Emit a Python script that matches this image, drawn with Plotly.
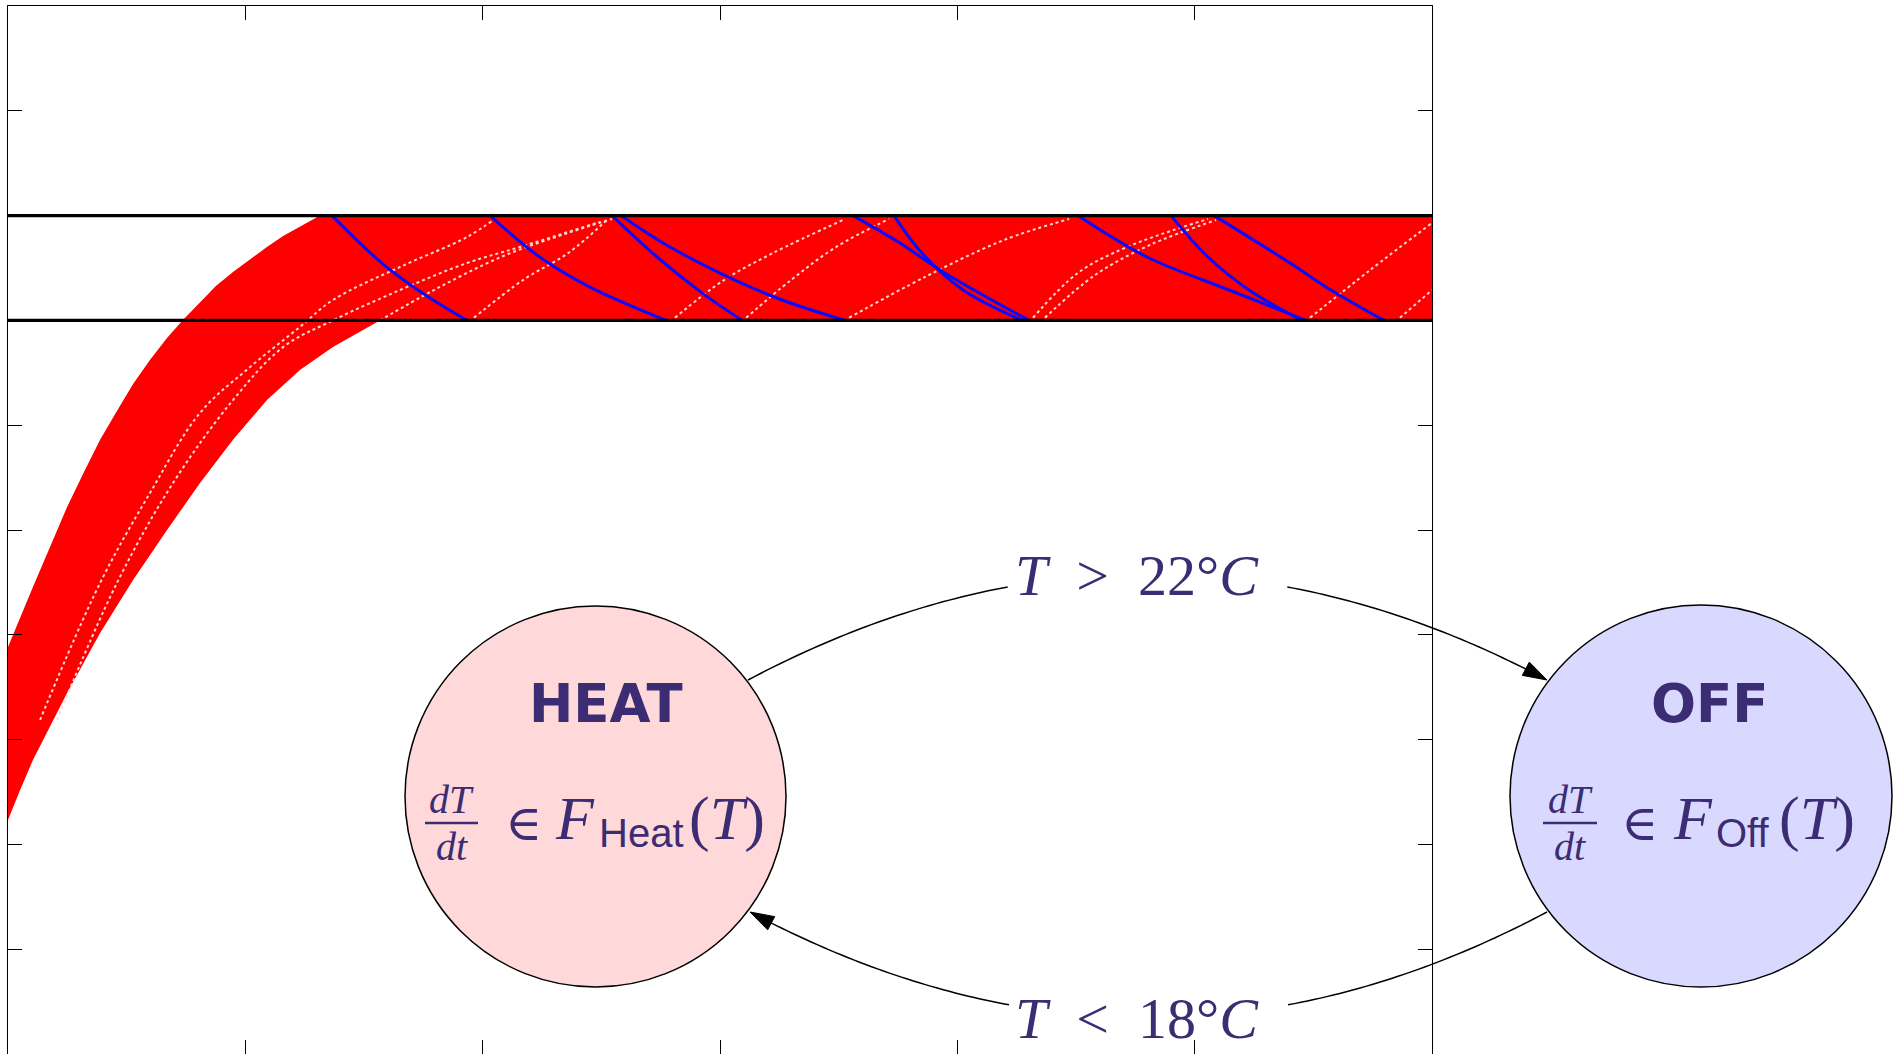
import plotly.graph_objects as go

# ---------------- data ----------------
T_RANGE = [-10, 30]          # temperature axis (unlabelled)
TIME_RANGE = [0, 6]          # time axis (unlabelled)
time_ticks = [1, 2, 3, 4, 5]
temp_ticks = [26, 22, 18, 14, 10, 6, 2, -2, -6]
T_OFF_SWITCH = 22            # T > 22 °C : HEAT -> OFF
T_HEAT_SWITCH = 18           # T < 18 °C : OFF -> HEAT

# envelope of the initial heating bundle
heat_upper_t = [0, 0.038, 0.105, 0.177, 0.249, 0.316, 0.388, 0.459, 0.527, 0.598, 0.670,
                0.737, 0.809, 0.876, 0.948, 1.020, 1.091, 1.159, 1.230, 1.273, 1.315]
heat_upper_T = [5.53, 6.37, 7.82, 9.35, 10.88, 12.14, 13.44, 14.54, 15.57, 16.49, 17.33,
                18.02, 18.70, 19.31, 19.85, 20.34, 20.80, 21.22, 21.56, 21.79, 22.0]
heat_lower_t = [0, 0.051, 0.105, 0.177, 0.249, 0.388, 0.527, 0.670, 0.809, 0.948, 1.091, 1.230, 1.369, 1.567]
heat_lower_T = [-1.07, 0.08, 1.22, 2.48, 3.78, 6.07, 8.09, 10.0, 11.79, 13.44, 14.96, 16.11, 16.98, 18.0]

# cooling trajectories (mode OFF), blue
cool_t = [
    [1.365, 1.580, 1.765, 1.934],
    [2.031, 2.246, 2.452, 2.773],
    [2.545, 2.735, 2.924, 3.093],
    [2.583, 2.789, 3.207, 3.527],
    [3.560, 3.750, 3.940, 4.302],
    [3.733, 3.851, 4.024, 4.273],
    [4.508, 4.799, 5.145, 5.469],
    [4.900, 5.056, 5.229, 5.452],
    [5.082, 5.402, 5.574, 5.798],
]
cool_T = [
    [22.0, 20.15, 18.93, 18.0],
    [22.0, 20.38, 19.27, 18.0],
    [22.0, 20.42, 19.05, 18.0],
    [22.0, 20.80, 18.97, 18.0],
    [22.0, 21.00, 19.85, 18.0],
    [22.0, 20.57, 19.16, 18.0],
    [22.0, 20.42, 19.16, 18.0],
    [22.0, 20.42, 19.16, 18.0],
    [22.0, 20.19, 19.16, 18.0],
]

# pale edges of the heating bundles inside the red region
edge_t = [
    [0.135, 0.388, 0.598, 0.809, 1.020, 1.230, 1.369, 1.652, 1.934, 2.044],
    [0.206, 0.459, 0.695, 0.948, 1.159, 1.369, 1.652, 1.934, 2.157, 2.494],
    [1.567, 1.795, 2.077, 2.360, 2.545],
    [1.963, 2.170, 2.360, 2.528],
    [2.810, 3.017, 3.223, 3.527],
    [3.110, 3.299, 3.489, 3.712],
    [3.544, 3.864, 4.197, 4.471],
    [4.319, 4.508, 4.715, 5.056],
    [4.369, 4.580, 4.812, 5.090],
    [5.486, 5.739, 6.0],
    [5.865, 6.0],
]
edge_T = [
    [2.75, 7.98, 11.41, 14.47, 16.22, 17.75, 18.78, 20.04, 21.18, 21.83],
    [2.75, 7.98, 11.79, 14.96, 16.98, 18.0, 19.16, 20.19, 20.80, 21.76],
    [18.0, 19.16, 20.42, 21.34, 21.87],
    [18.1, 19.54, 20.57, 21.87],
    [18.1, 19.54, 20.57, 21.87],
    [18.1, 19.54, 20.80, 21.87],
    [18.1, 19.66, 21.07, 21.87],
    [18.1, 19.81, 20.80, 21.87],
    [18.1, 19.73, 20.88, 21.83],
    [18.1, 19.92, 21.72],
    [18.1, 19.16],
]

# ---------------- layout geometry ----------------
W, H = 1902, 1054
ML, MR, MT, MB = 8, 470, 6, 0
PW, PH = W - ML - MR, H - MT - MB

def px(x):
    return (x - ML) / PW

def py(y):
    return 1 - (y - MT) / PH

TXT = "#3b2c74"
RED = "#fe0000"
BLUE = "#0a0aff"
SERIF = "Liberation Serif"

fig = go.Figure()

# red reachable region
poly_t = heat_upper_t + [TIME_RANGE[1], TIME_RANGE[1]] + heat_lower_t[::-1]
poly_T = heat_upper_T + [T_OFF_SWITCH, T_HEAT_SWITCH] + heat_lower_T[::-1]
fig.add_trace(go.Scatter(x=poly_t, y=poly_T, mode="lines", fill="toself",
                         fillcolor=RED, line=dict(width=0, color=RED),
                         hoverinfo="skip"))

for ts, Ts in zip(edge_t, edge_T):
    fig.add_trace(go.Scatter(x=ts, y=Ts, mode="lines",
                             line=dict(color="rgba(255,215,215,1)", width=2,
                                       dash="dot", shape="spline"),
                             hoverinfo="skip"))

for ts, Ts in zip(cool_t, cool_T):
    fig.add_trace(go.Scatter(x=ts, y=Ts, mode="lines",
                             line=dict(color=BLUE, width=3, shape="spline"),
                             hoverinfo="skip"))

for level in (T_OFF_SWITCH, T_HEAT_SWITCH):
    fig.add_trace(go.Scatter(x=TIME_RANGE, y=[level, level], mode="lines",
                             line=dict(color="black", width=3.2),
                             hoverinfo="skip"))

# ---------------- automaton overlay ----------------
shapes = []
annotations = []

def circle(cx, cy, r, fill):
    shapes.append(dict(type="circle", xref="paper", yref="paper",
                       x0=px(cx - r), x1=px(cx + r), y0=py(cy + r), y1=py(cy - r),
                       fillcolor=fill, line=dict(color="black", width=1.5),
                       layer="above"))

circle(595.5, 796.5, 190.5, "rgb(255,217,217)")
circle(1701, 796, 191, "rgb(217,217,255)")

def qb(p0, c, p2, t):
    return ((1 - t) ** 2 * p0[0] + 2 * t * (1 - t) * c[0] + t ** 2 * p2[0],
            (1 - t) ** 2 * p0[1] + 2 * t * (1 - t) * c[1] + t ** 2 * p2[1])

def arc_piece(p0, c, p2, ta, tb, n=40):
    pts = [qb(p0, c, p2, ta + (tb - ta) * i / n) for i in range(n + 1)]
    path = "M " + " L ".join(f"{px(x):.5f},{py(y):.5f}" for x, y in pts)
    shapes.append(dict(type="path", xref="paper", yref="paper", path=path,
                       line=dict(color="black", width=1.5), layer="above"))

def arrow_head(p0, c, p2, length=24, half=7.5):
    dx, dy = p2[0] - c[0], p2[1] - c[1]
    n = (dx * dx + dy * dy) ** 0.5
    ux, uy = dx / n, dy / n
    bx, by = p2[0] - ux * length, p2[1] - uy * length
    a = (bx - uy * half, by + ux * half)
    b = (bx + uy * half, by - ux * half)
    path = (f"M {px(p2[0]):.5f},{py(p2[1]):.5f} L {px(a[0]):.5f},{py(a[1]):.5f} "
            f"L {px(b[0]):.5f},{py(b[1]):.5f} Z")
    shapes.append(dict(type="path", xref="paper", yref="paper", path=path,
                       fillcolor="black", line=dict(color="black", width=1),
                       layer="above"))

up = ((748, 680), (1147.5, 468), (1547, 680))
lo = ((1547, 912), (1148.5, 1123.6), (750, 912))
for p0, c, p2 in (up, lo):
    arc_piece(p0, c, p2, 0.0, 0.325)
    arc_piece(p0, c, p2, 0.675, 0.975)
    arrow_head(p0, c, p2)

def label(x, y, text, size, family=SERIF, xanchor="center", bold=False):
    annotations.append(dict(x=px(x), y=py(y), xref="paper", yref="paper",
                            text=f"<b>{text}</b>" if bold else text,
                            showarrow=False, xanchor=xanchor, yanchor="middle",
                            borderpad=0,
                            font=dict(family=family, size=size, color=TXT)))

SP = "&nbsp;&nbsp;"
label(1137, 575, f"<i>T</i>{SP}&gt;{SP}22°<i>C</i>", 58)
label(1137, 1018, f"<i>T</i>{SP}&lt;{SP}18°<i>C</i>", 58)

label(606, 703, "HEAT", 53, family="DejaVu Sans", bold=True)
label(1709, 703, "OFF", 53, family="DejaVu Sans", bold=True)

def formula(bar_l, bar_r, in_c, f_l, sub_l, sub, par_l):
    cx = (bar_l + bar_r) / 2
    label(cx, 799, "<i>dT</i>", 40)
    label(cx, 846, "<i>dt</i>", 40)
    shapes.append(dict(type="line", xref="paper", yref="paper",
                       x0=px(bar_l), x1=px(bar_r), y0=py(823), y1=py(823),
                       line=dict(color=TXT, width=2.5), layer="above"))
    label(in_c, 823, "∈", 50, family="DejaVu Serif")
    label(f_l, 818, "<i>F</i>", 62, xanchor="left")
    label(sub_l, 833, sub, 40, family="Liberation Sans", xanchor="left")
    label(par_l, 818, "(<i>T</i>)", 62, xanchor="left")

formula(425, 478, 523, 554, 598, "Heat", 688)
formula(1543, 1597, 1639, 1672, 1715, "Off", 1778)

fig.update_layout(
    width=W, height=H,
    margin=dict(l=ML, r=MR, t=MT, b=MB, pad=0),
    paper_bgcolor="white", plot_bgcolor="white",
    showlegend=False,
    shapes=shapes, annotations=annotations,
    xaxis=dict(range=TIME_RANGE, side="top", showline=True, linecolor="black",
               linewidth=1, mirror="ticks", ticks="inside", ticklen=14,
               tickcolor="black", tickwidth=1, tickvals=time_ticks,
               showticklabels=False, showgrid=False, zeroline=False, fixedrange=True),
    yaxis=dict(range=T_RANGE, showline=True, linecolor="black", linewidth=1,
               mirror="ticks", ticks="inside", ticklen=14, tickcolor="black",
               tickwidth=1, tickvals=temp_ticks, showticklabels=False,
               showgrid=False, zeroline=False, fixedrange=True),
)

fig.write_html("out.html")
